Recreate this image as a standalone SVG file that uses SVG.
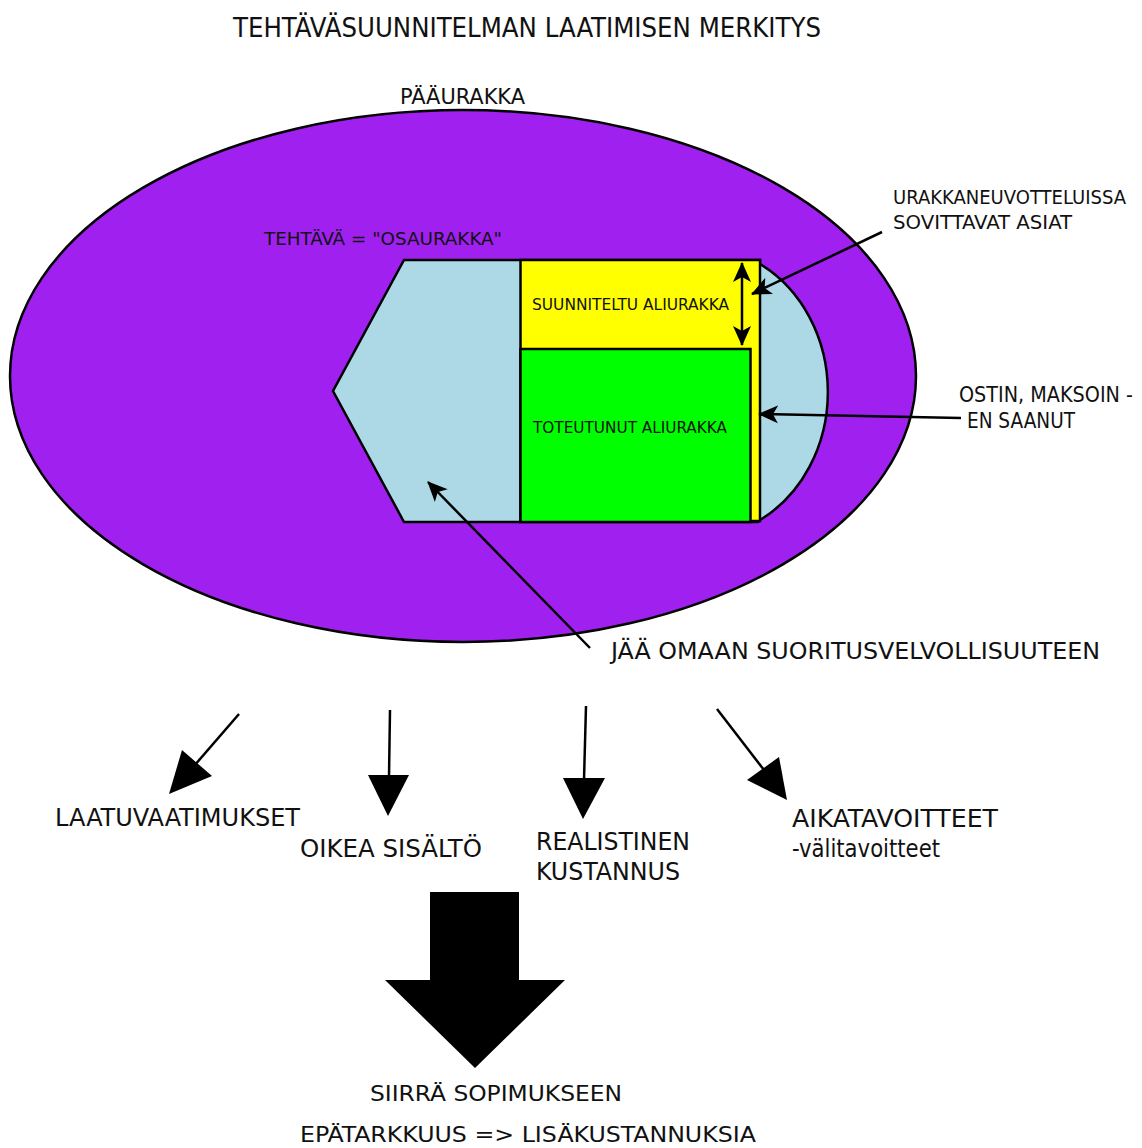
<svg xmlns="http://www.w3.org/2000/svg" width="1142" height="1148" viewBox="0 0 1142 1148">
<style>
text{font-family:"DejaVu Sans Condensed","DejaVu Sans",sans-serif;fill:#111}
.ln{stroke:#000;stroke-width:2.5;fill:none}
.hd{fill:#000}
</style>
<defs>
<marker id="ah" viewBox="0 0 20 20" refX="19" refY="10" markerWidth="20" markerHeight="20" markerUnits="userSpaceOnUse" orient="auto-start-reverse">
<path d="M0,1 L20,10 L0,19 L5,10 Z" fill="#000"/>
</marker>
</defs>
<rect width="1142" height="1148" fill="#fff"/>
<text x="527" y="37" font-size="26" text-anchor="middle" textLength="588" lengthAdjust="spacingAndGlyphs">TEHTÄVÄSUUNNITELMAN LAATIMISEN MERKITYS</text>
<g id="paaurakka">
<ellipse cx="463" cy="376" rx="453" ry="266" fill="#A020F0" stroke="#000" stroke-width="2.5"/>
<text x="400" y="104" font-size="22" textLength="125" lengthAdjust="spacingAndGlyphs">PÄÄURAKKA</text>
</g>
<g id="tehtava">
<path d="M404,260 L760,260 L760,264 A128 145 0 0 1 760,520 L758,522 L404,522 L333,391 Z" fill="#ADD8E6" stroke="#000" stroke-width="2.5"/>
<text x="264" y="245" font-size="17" textLength="238" lengthAdjust="spacingAndGlyphs">TEHTÄVÄ = "OSAURAKKA"</text>
</g>
<g id="suunniteltu">
<rect x="520.5" y="260" width="239.5" height="261" fill="#FFFF00" stroke="#000" stroke-width="2.5"/>
<text x="532" y="310" font-size="16" textLength="197" lengthAdjust="spacingAndGlyphs">SUUNNITELTU ALIURAKKA</text>
</g>
<g id="toteutunut">
<rect x="520.5" y="349" width="230" height="173" fill="#00FF00" stroke="#000" stroke-width="2.5"/>
<text x="533" y="433" font-size="16" textLength="194" lengthAdjust="spacingAndGlyphs">TOTEUTUNUT ALIURAKKA</text>
</g>
<g id="sovittavat">
<text x="893" y="204" font-size="19" textLength="233" lengthAdjust="spacingAndGlyphs">URAKKANEUVOTTELUISSA</text>
<text x="893" y="229" font-size="19" textLength="179" lengthAdjust="spacingAndGlyphs">SOVITTAVAT ASIAT</text>
</g>
<g id="ostin">
<text x="959" y="402" font-size="21" textLength="174" lengthAdjust="spacingAndGlyphs">OSTIN, MAKSOIN -</text>
<text x="967" y="428" font-size="21" textLength="108" lengthAdjust="spacingAndGlyphs">EN SAANUT</text>
</g>
<g id="jaa">
<text x="611" y="659" font-size="23" textLength="489" lengthAdjust="spacingAndGlyphs">JÄÄ OMAAN SUORITUSVELVOLLISUUTEEN</text>
</g>
<g id="laatu"><text x="55" y="826" font-size="25" textLength="245" lengthAdjust="spacingAndGlyphs">LAATUVAATIMUKSET</text></g>
<g id="oikea"><text x="300" y="857" font-size="25" textLength="182" lengthAdjust="spacingAndGlyphs">OIKEA SISÄLTÖ</text></g>
<g id="realistinen">
<text x="536" y="850" font-size="25" textLength="154" lengthAdjust="spacingAndGlyphs">REALISTINEN</text>
<text x="536" y="880" font-size="25" textLength="144" lengthAdjust="spacingAndGlyphs">KUSTANNUS</text>
</g>
<g id="aikatavoitteet">
<text x="792" y="827" font-size="25" textLength="206" lengthAdjust="spacingAndGlyphs">AIKATAVOITTEET</text>
<text x="792" y="857" font-size="25" textLength="148" lengthAdjust="spacingAndGlyphs">-välitavoitteet</text>
</g>
<g id="siirra">
<polygon points="430,892 519,892 519,980 565,980 475,1068 385,980 430,980" fill="#000"/>
<text x="370" y="1101" font-size="22" textLength="252" lengthAdjust="spacingAndGlyphs">SIIRRÄ SOPIMUKSEEN</text>
<text x="300" y="1142" font-size="22" textLength="456" lengthAdjust="spacingAndGlyphs">EPÄTARKKUUS =&gt; LISÄKUSTANNUKSIA</text>
</g>
<g id="connectors">
<line class="ln" x1="742" y1="263" x2="742" y2="345" marker-start="url(#ah)" marker-end="url(#ah)"/>
<line class="ln" x1="882" y1="232" x2="752" y2="294" marker-end="url(#ah)"/>
<line class="ln" x1="961" y1="418" x2="759" y2="414" marker-end="url(#ah)"/>
<line class="ln" x1="590" y1="648" x2="428" y2="482" marker-end="url(#ah)"/>
<line class="ln" x1="239" y1="714" x2="194" y2="766"/>
<polygon class="hd" points="182,750 212,776 169,794"/>
<line class="ln" x1="390" y1="710" x2="389" y2="777"/>
<polygon class="hd" points="368,775 409,775 388,816"/>
<line class="ln" x1="586" y1="706" x2="584" y2="780"/>
<polygon class="hd" points="563,778 605,778 583,819"/>
<line class="ln" x1="717" y1="709" x2="764" y2="770"/>
<polygon class="hd" points="747,780 779,757 787,800"/>
</g>
</svg>
